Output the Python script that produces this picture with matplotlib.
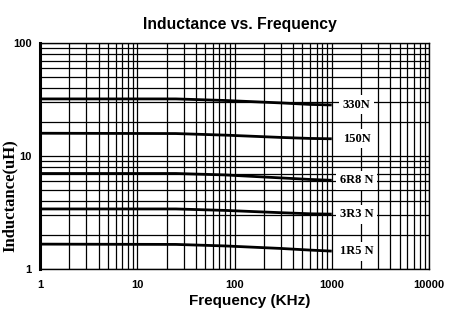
import matplotlib
matplotlib.use('Agg')
import matplotlib.pyplot as plt
import numpy as np

# Data
freq = [1, 25, 80, 300, 600, 1000]
l_330 = [32.0, 32.0, 31.0, 29.5, 28.6, 28.3]
l_150 = [15.9, 15.8, 15.3, 14.6, 14.3, 14.2]
l_6r8 = [7.0, 7.0, 6.8, 6.4, 6.2, 6.1]
l_3r3 = [3.40, 3.40, 3.30, 3.15, 3.08, 3.06]
l_1r5 = [1.66, 1.65, 1.60, 1.52, 1.47, 1.44]
names = ['330N', '150N', '6R8 N', '3R3 N', '1R5 N']
series = [l_330, l_150, l_6r8, l_3r3, l_1r5]

label_x = 1800

fig = plt.figure(figsize=(4.51, 3.19), dpi=100)
ax = fig.add_axes([40/451, 1 - 269/319, 389/451, 226/319])

for vals, name in zip(series, names):
    ax.plot(freq, vals, color='k', lw=2.0, solid_capstyle='butt', zorder=3)
    ax.text(label_x, vals[-1], name, family='Liberation Serif', fontweight='bold',
            fontsize=9, ha='center', va='center', zorder=4,
            bbox=dict(facecolor='white', edgecolor='none', pad=2.5))

ax.set_xscale('log')
ax.set_yscale('log')
ax.set_xlim(1, 10000)
ax.set_ylim(1, 100)
ax.grid(True, which='both', color='k', lw=0.9, zorder=1)
ax.set_axisbelow(True)
for s in ax.spines.values():
    s.set_linewidth(1.0)
ax.spines['left'].set_linewidth(2.2)

ax.set_xticks([1, 10, 100, 1000, 10000])
ax.set_xticklabels(['1', '10', '100', '1000', '10000'])
ax.set_yticks([1, 10, 100])
ax.set_yticklabels(['1', '10', '100'])
ax.tick_params(which='both', length=0)
ax.tick_params(axis='x', pad=8)
ax.tick_params(axis='y', pad=6)
for lab in ax.get_xticklabels() + ax.get_yticklabels():
    lab.set_family('Liberation Sans')
    lab.set_fontweight('bold')
    lab.set_fontsize(8)

fig.text(250/451, 1 - 301/319, 'Frequency (KHz)', family='Liberation Sans',
         fontweight='bold', fontsize=11, ha='center', va='center')
fig.text(10/451, 1 - 196/319, 'Inductance(uH)', family='Liberation Serif',
         fontweight='bold', fontsize=12, ha='center', va='center', rotation=90)
fig.text(240/451, 1 - 24/319, 'Inductance vs. Frequency', family='Liberation Sans',
         fontweight='bold', fontsize=11.3, ha='center', va='center')

plt.savefig('out.png', dpi=100)
